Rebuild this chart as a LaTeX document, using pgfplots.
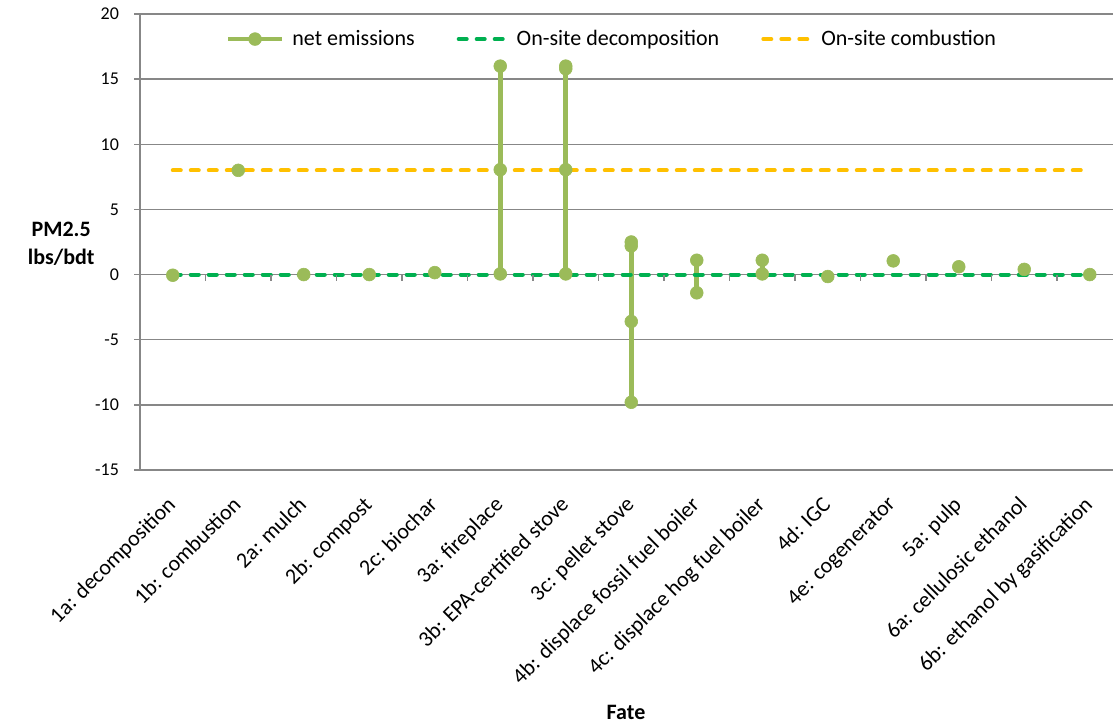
\documentclass[border=0pt]{standalone}
\usepackage{pgfplots}
\pgfplotsset{compat=1.18}
\usepackage{pgfplotstable}
\usepackage{fontspec}
\setmainfont{Carlito}
\definecolor{netc}{HTML}{9BBB59}
\definecolor{decc}{HTML}{00B050}
\definecolor{comc}{HTML}{FFC000}
\definecolor{gridc}{HTML}{878787}

\pgfplotsset{
  netleg/.style={legend image code/.code={\draw[mark repeat=2, mark phase=2, ##1] plot coordinates {(0pt,0pt) (13.5pt,0pt) (27pt,0pt)};}},
  dashleg/.style={legend image code/.code={\draw[##1] (1pt,0pt) -- (25pt,0pt);}},
}

\pgfplotstableread{
x y
0 -0.05
nan nan
1 8.0
nan nan
2 0.0
nan nan
3 0.0
nan nan
4 0.15
nan nan
5 16.0
5 8.05
5 0.05
nan nan
6 16.0
6 15.8
6 8.05
6 0.05
nan nan
7 2.5
7 2.2
7 -3.6
7 -9.8
nan nan
8 1.1
8 -1.4
nan nan
9 1.1
9 0.05
nan nan
10 -0.15
nan nan
11 1.05
nan nan
12 0.6
nan nan
13 0.4
nan nan
14 0.0
}\netdata

\pgfplotstableread{
x y
0 0
14 0
}\decdata

\pgfplotstableread{
x y
0 8
14 8
}\comdata

\begin{document}
\begin{tikzpicture}
\useasboundingbox (0,0) rectangle (556.5pt,362pt);
\begin{axis}[
  at={(70pt,127pt)}, anchor=south west,
  scale only axis, width=486.5pt, height=228pt,
  xmin=-0.5, xmax=14.355, ymin=-15, ymax=20,
  axis x line*=bottom, axis y line*=left,
  axis line style={gridc, line width=0.7pt},
  ytick={-15,-10,...,20},
  ymajorgrids, grid style={gridc, line width=0.7pt},
  xtick={0,...,14},
  xticklabels={1a: decomposition,1b: combustion,2a: mulch,2b: compost,2c: biochar,3a: fireplace,3b: EPA-certified stove,3c: pellet stove,4b: displace fossil fuel boiler,4c: displace hog fuel boiler,4d: IGC,4e: cogenerator,5a: pulp,6a: cellulosic ethanol,6b: ethanol by gasification},
  x tick label style={rotate=45, anchor=north east, font=\fontsize{11}{13}\selectfont, xshift=-5.7pt, yshift=-0.8pt},
  y tick label style={font=\fontsize{9}{11}\selectfont, xshift=-4pt},
  xtick style={draw=none},
  ytick style={gridc, line width=0.7pt},
  tick align=outside, major tick length=3pt,
  /pgf/number format/assume math mode=true,
  unbounded coords=jump,
  ylabel={PM2.5\\lbs/bdt},
  xlabel={Fate},
  every axis y label/.style={at={(rel axis cs:-0.081,0.496)}, anchor=center, align=center, font=\bfseries\fontsize{11}{14}\selectfont},
  every axis x label/.style={at={(rel axis cs:0.4995,-0.531)}, anchor=center, font=\bfseries\fontsize{11}{13}\selectfont},
  legend columns=3,
  legend style={at={(rel axis cs:0.486,0.945)}, anchor=center, draw=none, fill=none,
    font=\fontsize{11}{13}\selectfont,
    /tikz/every odd column/.append style={column sep=2pt},
    /tikz/every even column/.append style={column sep=19pt}},
]
\addplot[color=netc, line width=2.35pt, mark=*, mark size=3.2pt, mark options={solid, fill=netc, draw=netc, line width=0.3pt}, netleg]
  table[x=x, y=y] {\netdata};
\addlegendentry{net emissions}
\addplot[color=decc, line width=2pt, line cap=round, dash pattern=on 4pt off 5pt, dashleg]
  table[x=x, y=y] {\decdata};
\addlegendentry{On-site decomposition}
\addplot[color=comc, line width=2pt, line cap=round, dash pattern=on 4pt off 5pt, dashleg]
  table[x=x, y=y] {\comdata};
\addlegendentry{On-site combustion}
\end{axis}
\begin{axis}[
  at={(70pt,127pt)}, anchor=south west,
  scale only axis, width=486.5pt, height=228pt,
  xmin=-0.5, xmax=14.355, ymin=-15, ymax=20,
  axis x line=middle, axis y line=none,
  axis line style={draw=none},
  xtick={0.5,1.5,...,13.5}, xticklabels={},
  ytick=\empty,
  xtick style={gridc, line width=0.7pt},
  tick align=outside, major tick length=3pt,
]
\end{axis}
\end{tikzpicture}
\end{document}
